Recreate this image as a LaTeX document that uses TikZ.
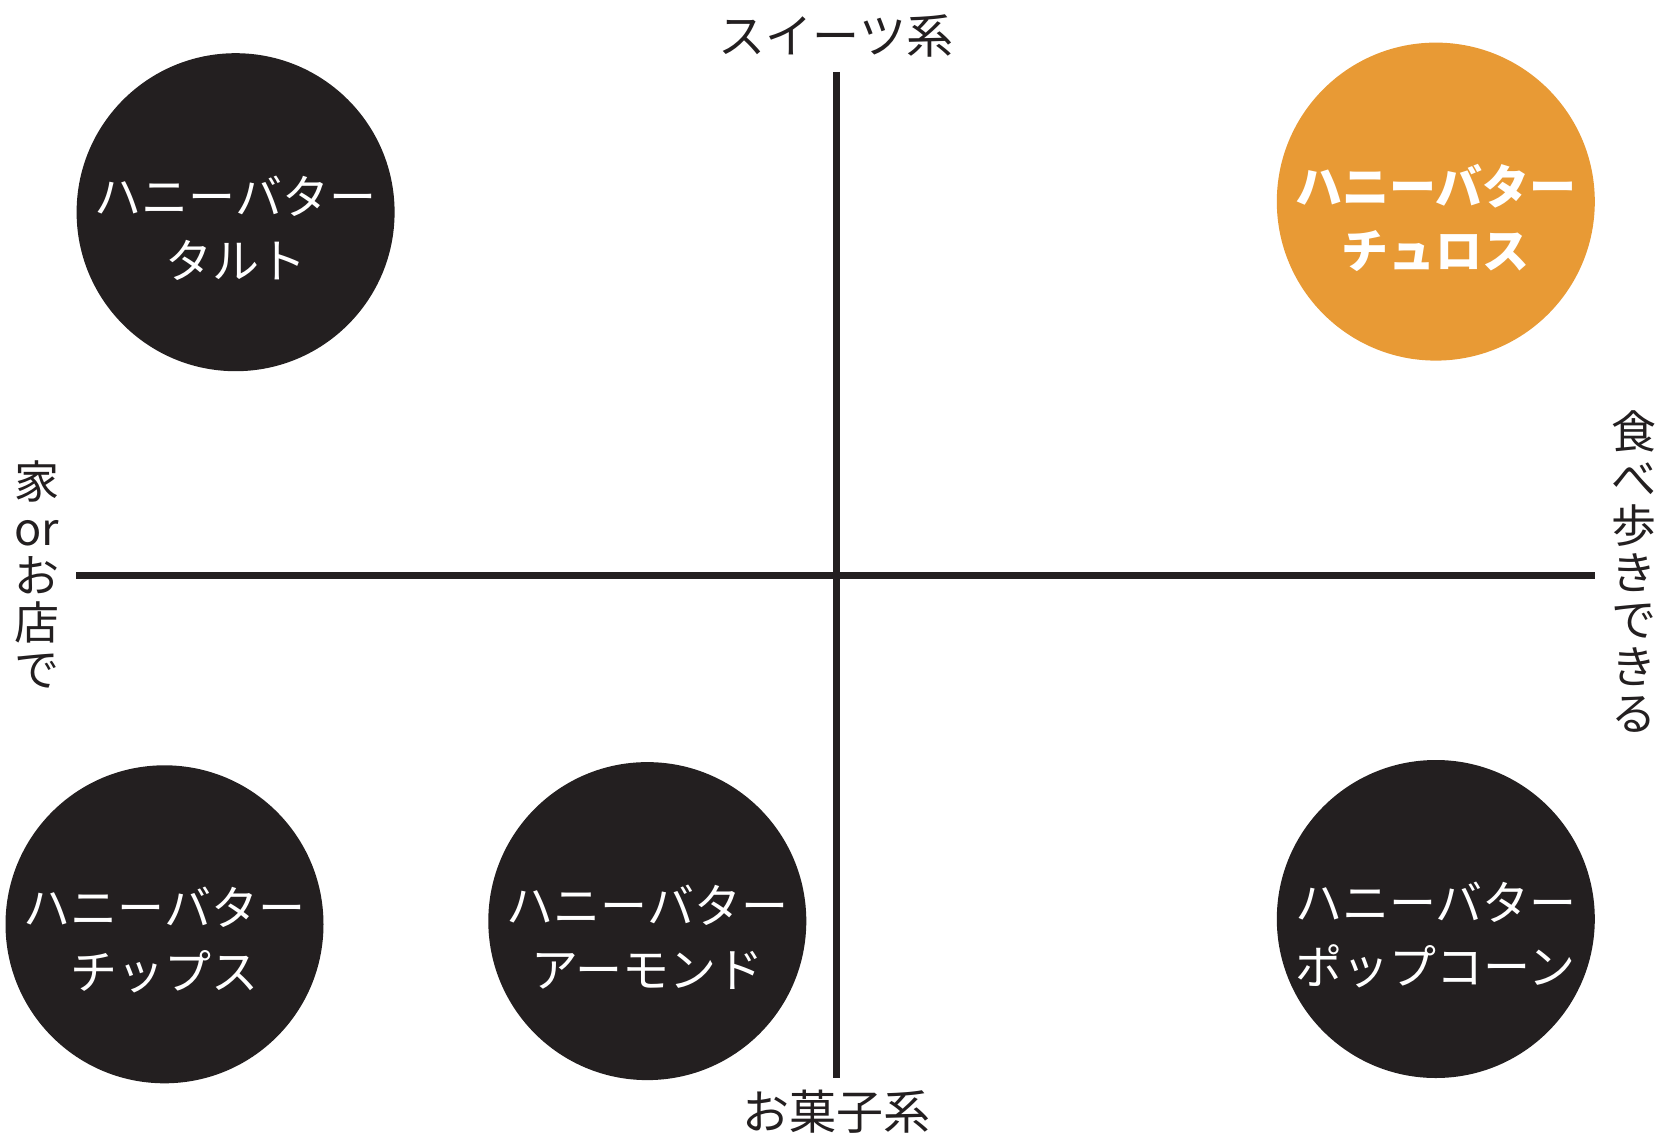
\documentclass[tikz,border=0pt]{standalone}
\usepackage{fontspec}
\setmainfont{Noto Sans CJK JP}
\definecolor{ink}{HTML}{231F20}
\definecolor{accent}{HTML}{E89A35}
\begin{document}
\begin{tikzpicture}[x=1pt,y=-1pt,
  bubble/.style={circle,fill=ink,draw=none,minimum size=318pt,inner sep=0pt},
  hot/.style={bubble,fill=accent},
  bubbletext/.style={text=white,align=center,inner sep=0pt,font=\fontsize{47}{64}\selectfont},
  axislabel/.style={text=ink,inner sep=0pt,font=\fontsize{47}{56}\selectfont},
  sidelabel/.style={text=ink,inner sep=0pt,align=center,font=\fontsize{45}{47}\selectfont},
  axis/.style={draw=ink,line width=6.5pt}]
\useasboundingbox (0,0) rectangle (1664,1137);
% axes
\coordinate (top) at (836.5,72);
\coordinate (bottom) at (836.5,1078);
\coordinate (left) at (76,575.5);
\coordinate (right) at (1595,575.5);
\draw[axis] (top) -- (bottom);
\draw[axis] (left) -- (right);
% axis labels
\node[axislabel] (sweets) at (836,36) {スイーツ系};
\node[axislabel] (snack) at (836,1112) {お菓子系};
\node[sidelabel] (home) at (37,574) {家\\or\\お\\店\\で};
\node[sidelabel] (walk) at (1634,572) {食\\べ\\歩\\き\\で\\き\\る};
% bubbles
\node[bubble] (tart) at (235.6,212.2) {};
\node[hot] (churros) at (1435.8,201.6) {};
\node[bubble] (chips) at (164.5,924.3) {};
\node[bubble] (almond) at (647.3,921.1) {};
\node[bubble] (popcorn) at (1435.8,919) {};
\node[bubbletext] (tartT) at ([yshift=-16]tart.center) {ハニーバター\\タルト};
\node[bubbletext,font=\fontsize{47}{64}\selectfont\bfseries] (churrosT) at ([yshift=-16]churros.center) {ハニーバター\\チュロス};
\node[bubbletext] (chipsT) at ([yshift=-16]chips.center) {ハニーバター\\チップス};
\node[bubbletext] (almondT) at ([yshift=-16]almond.center) {ハニーバター\\アーモンド};
\node[bubbletext] (popcornT) at ([yshift=-16]popcorn.center) {ハニーバター\\ポップコーン};
\end{tikzpicture}
\end{document}
